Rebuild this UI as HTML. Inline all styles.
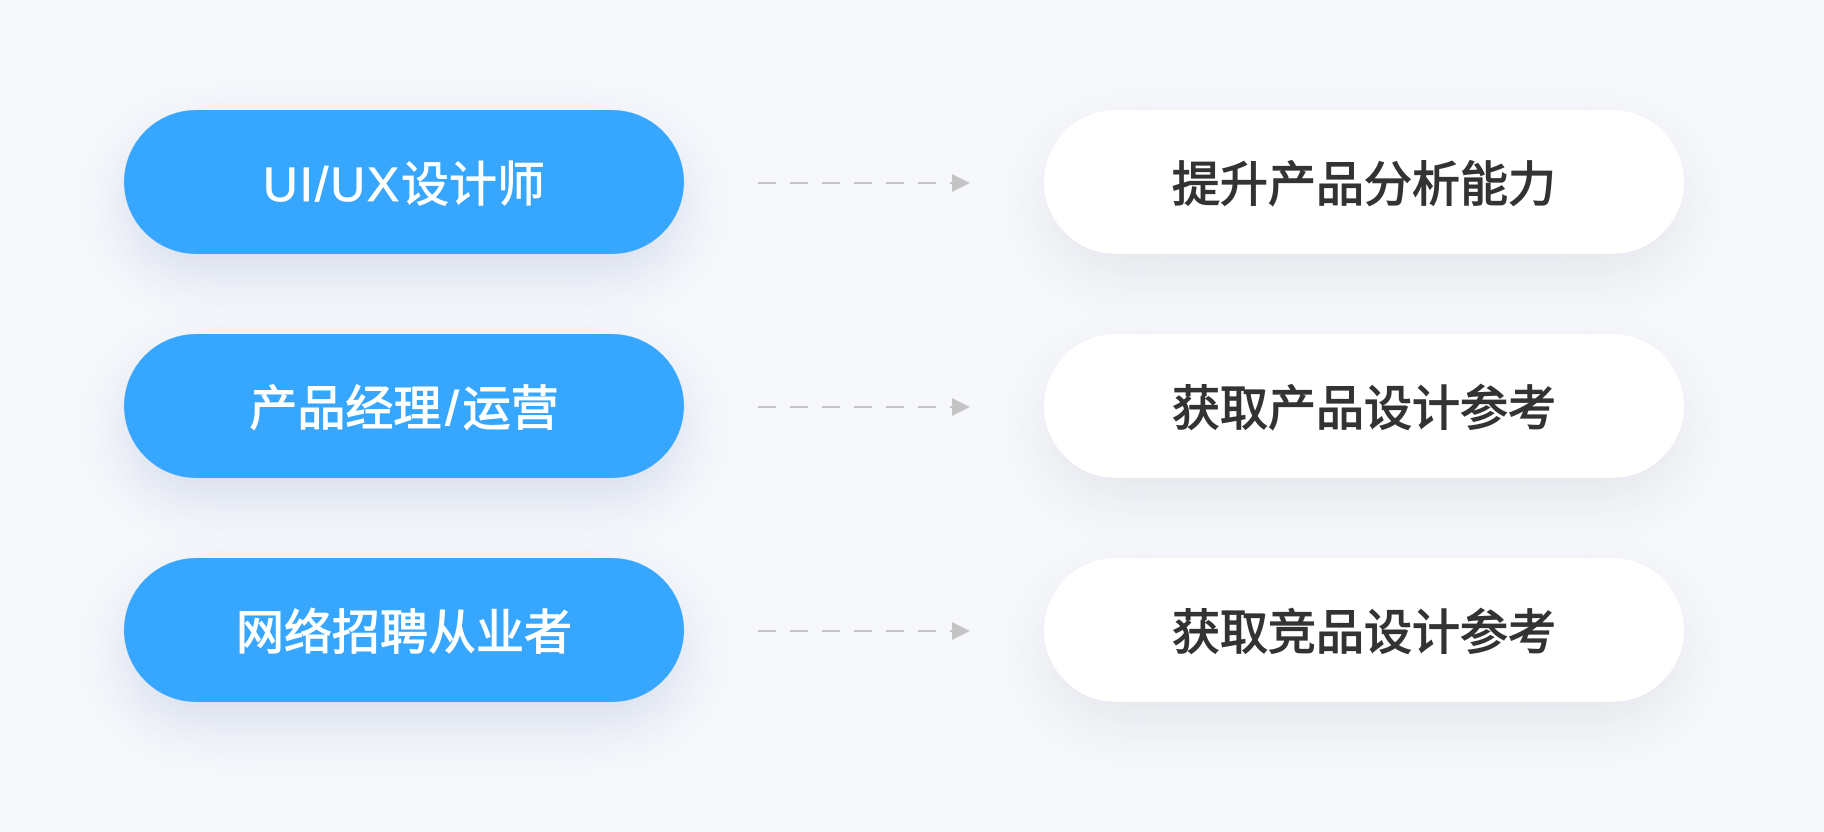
<!DOCTYPE html>
<html lang="zh"><head><meta charset="utf-8">
<style>
html,body{margin:0;padding:0;}
body{width:1824px;height:832px;background:#f6f8fc;position:relative;overflow:hidden;font-family:"Liberation Sans","Noto Sans CJK SC",sans-serif;}
.p{position:absolute;height:144px;line-height:151px;border-radius:72px;text-align:center;font-size:48px;font-weight:400;white-space:nowrap;}
.l{left:124px;width:560px;background:#36a6ff;color:#fff;box-shadow:0 22px 56px rgba(47,74,145,.15);-webkit-text-stroke:1.1px #fff;}
.r{left:1044px;width:640px;background:#fff;color:#333;box-shadow:0 22px 56px rgba(60,60,80,.09);-webkit-text-stroke:1.3px #333;}
.s{padding:0 4px;}
.u{letter-spacing:2px;}
svg{position:absolute;left:0;top:0;}
</style></head><body>
<div class="p l" style="top:110px;-webkit-text-stroke:.8px #fff"><span class="u">UI/UX</span>设计师</div>
<div class="p r" style="top:110px">提升产品分析能力</div>
<div class="p l" style="top:334px">产品经理<span class="s">/</span>运营</div>
<div class="p r" style="top:334px">获取产品设计参考</div>
<div class="p l" style="top:558px">网络招聘从业者</div>
<div class="p r" style="top:558px">获取竞品设计参考</div>
<svg width="1824" height="832" viewBox="0 0 1824 832">
<g stroke="#c4c4c4" stroke-width="2" stroke-dasharray="18 14" fill="none">
<path d="M758 183H960"/><path d="M758 407H960"/><path d="M758 631H960"/>
</g>
<g fill="#c4c4c4">
<path d="M952 174L970 183L952 192Z"/><path d="M952 398L970 407L952 416Z"/><path d="M952 622L970 631L952 640Z"/>
</g>
</svg>
</body></html>
